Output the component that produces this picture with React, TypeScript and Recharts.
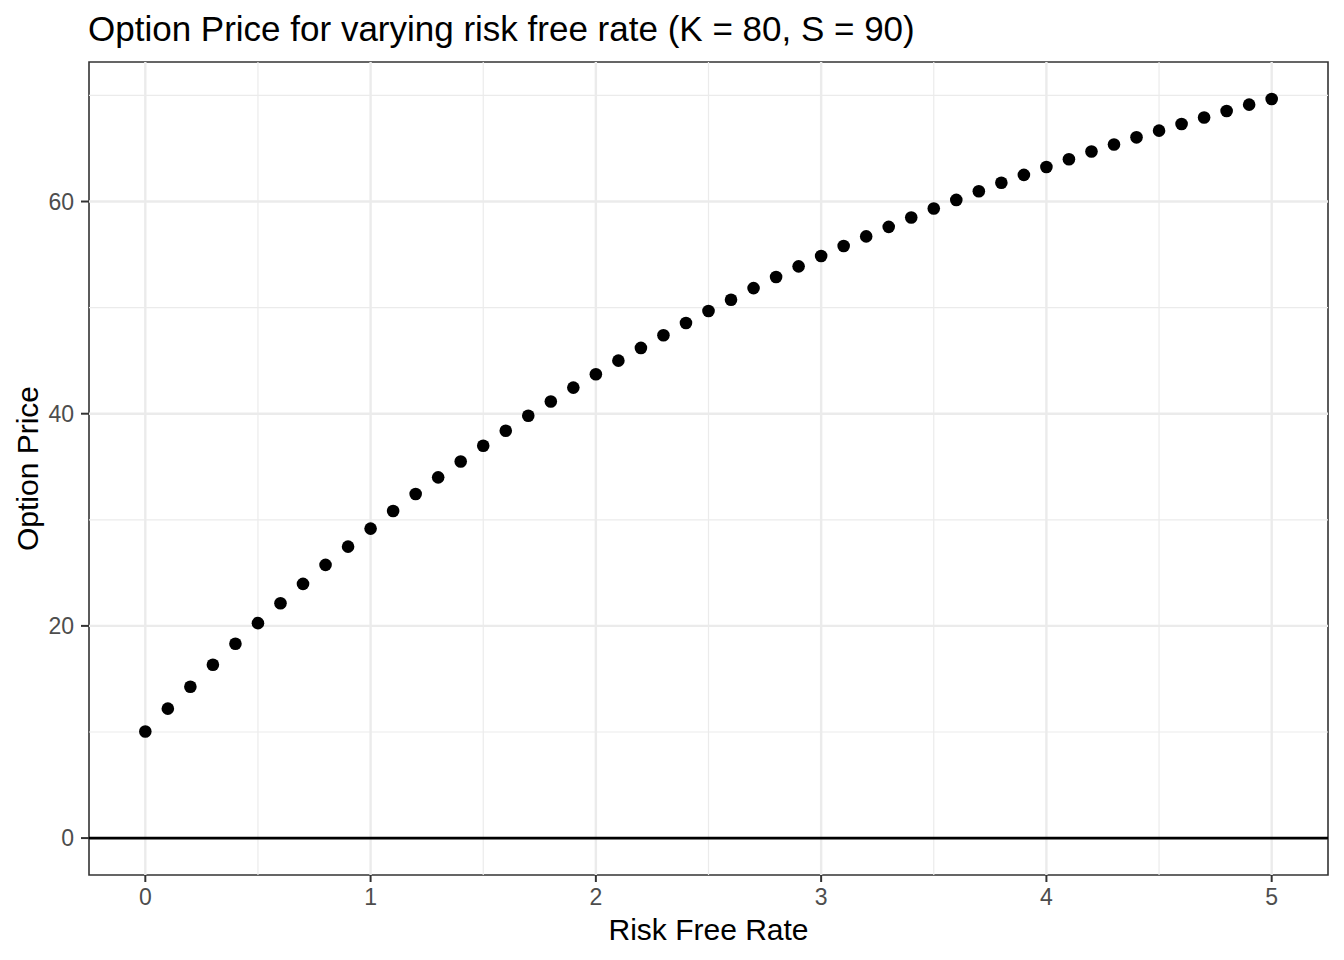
import React from 'react';
import {
  ComposedChart,
  Scatter,
  XAxis,
  YAxis,
  ReferenceLine,
  ReferenceArea,
  Label,
} from 'recharts';

const riskFreeRate = [
  0, 0.1, 0.2, 0.3, 0.4, 0.5, 0.6, 0.7, 0.8, 0.9,
  1.0, 1.1, 1.2, 1.3, 1.4, 1.5, 1.6, 1.7, 1.8, 1.9,
  2.0, 2.1, 2.2, 2.3, 2.4, 2.5, 2.6, 2.7, 2.8, 2.9,
  3.0, 3.1, 3.2, 3.3, 3.4, 3.5, 3.6, 3.7, 3.8, 3.9,
  4.0, 4.1, 4.2, 4.3, 4.4, 4.5, 4.6, 4.7, 4.8, 4.9,
  5.0,
];

const optionPrice = [
  10.04, 12.2, 14.27, 16.34, 18.32, 20.26, 22.14, 23.96, 25.75, 27.47,
  29.17, 30.83, 32.43, 34.0, 35.5, 36.98, 38.39, 39.8, 41.15, 42.46,
  43.72, 45.0, 46.2, 47.39, 48.55, 49.68, 50.74, 51.84, 52.88, 53.89,
  54.86, 55.8, 56.71, 57.61, 58.5, 59.34, 60.15, 60.97, 61.77, 62.51,
  63.26, 63.98, 64.71, 65.37, 66.05, 66.68, 67.3, 67.92, 68.53, 69.13,
  69.66,
];

const xTicks = [0, 1, 2, 3, 4, 5];
const xMinorBreaks = [0.5, 1.5, 2.5, 3.5, 4.5];
const yTicks = [0, 20, 40, 60];
const yMinorBreaks = [10, 30, 50, 70];
const xDomain: [number, number] = [-0.25, 5.25];
const yDomain: [number, number] = [-3.48, 73.15];

const titleText = 'Option Price for varying risk free rate (K = 80, S = 90)';
const xTitle = 'Risk Free Rate';
const yTitle = 'Option Price';

const FONT = '"Liberation Sans", Arial, Helvetica, sans-serif';

const data = riskFreeRate.map((r, i) => ({ r, price: optionPrice[i] }));

const Dot = (props: any) => {
  const { cx, cy } = props;
  if (cx == null || cy == null) return null;
  return <circle cx={cx} cy={cy} r={6.3} fill="#000000" />;
};

export default function App() {
  return (
    <div
      style={{
        position: 'absolute',
        left: 0,
        top: 0,
        width: 1344,
        height: 960,
        background: '#ffffff',
        fontFamily: FONT,
      }}
    >
      <div
        style={{
          position: 'absolute',
          left: 88,
          top: 9,
          fontSize: 35,
          lineHeight: 'normal',
          color: '#000000',
          fontFamily: FONT,
          whiteSpace: 'nowrap',
        }}
      >
        {titleText}
      </div>
      <ComposedChart
        width={1344}
        height={960}
        data={data}
        margin={{ top: 62, right: 16, bottom: 0, left: 0 }}
      >
        <XAxis
          dataKey="r"
          type="number"
          domain={xDomain}
          ticks={xTicks}
          interval={0}
          allowDataOverflow
          height={85}
          axisLine={false}
          tickSize={7}
          tickMargin={7}
          tickLine={{ stroke: '#333333', strokeWidth: 2 }}
          tick={{ fill: '#4D4D4D', fontSize: 23, fontFamily: FONT }}
        >
          <Label
            content={() => (
              <text
                x={708.5}
                y={940}
                textAnchor="middle"
                fontSize={30}
                fontFamily={FONT}
                fill="#000000"
              >
                {xTitle}
              </text>
            )}
          />
        </XAxis>
        <YAxis
          dataKey="price"
          type="number"
          domain={yDomain}
          ticks={yTicks}
          interval={0}
          allowDataOverflow
          width={89}
          axisLine={false}
          tickSize={8}
          tickMargin={7}
          tickLine={{ stroke: '#333333', strokeWidth: 2 }}
          tick={{ fill: '#4D4D4D', fontSize: 23, fontFamily: FONT }}
        >
          <Label
            content={() => (
              <text
                x={38}
                y={468.5}
                transform="rotate(-90, 38, 468.5)"
                textAnchor="middle"
                fontSize={30}
                fontFamily={FONT}
                fill="#000000"
              >
                {yTitle}
              </text>
            )}
          />
        </YAxis>
        {xMinorBreaks.map((v) => (
          <ReferenceLine key={'xm' + v} x={v} stroke="#EBEBEB" strokeWidth={1.2} />
        ))}
        {yMinorBreaks.map((v) => (
          <ReferenceLine key={'ym' + v} y={v} stroke="#EBEBEB" strokeWidth={1.2} />
        ))}
        {xTicks.map((v) => (
          <ReferenceLine key={'xM' + v} x={v} stroke="#EBEBEB" strokeWidth={2.4} />
        ))}
        {yTicks.map((v) => (
          <ReferenceLine key={'yM' + v} y={v} stroke="#EBEBEB" strokeWidth={2.4} />
        ))}
        <ReferenceLine y={0} stroke="#000000" strokeWidth={2.6} />
        <ReferenceArea
          x1={xDomain[0]}
          x2={xDomain[1]}
          y1={yDomain[0]}
          y2={yDomain[1]}
          fill="none"
          fillOpacity={0}
          stroke="#333333"
          strokeWidth={1.6}
          ifOverflow="visible"
        />
        <Scatter
          dataKey="price"
          fill="#000000"
          shape={<Dot />}
          isAnimationActive={false}
        />
      </ComposedChart>
    </div>
  );
}
